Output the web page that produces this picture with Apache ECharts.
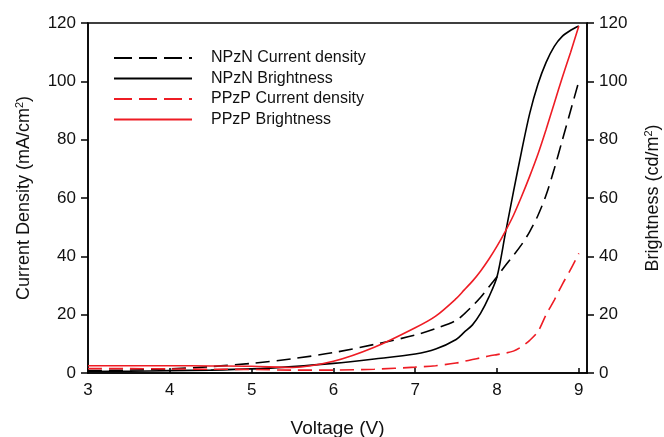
<!DOCTYPE html>
<html>
<head>
<meta charset="utf-8">
<script src="https://cdn.jsdelivr.net/npm/echarts@6/dist/echarts.min.js"></script>
<style>
    html, body { margin: 0; padding: 0; background: #fff; }
    #chart { width: 664px; height: 437px; }
</style>
</head>
<body>
<div id="chart"></div>
<script>
// 电压 (V)
var voltage = [3, 3.5, 4, 4.5, 5, 5.5, 6, 6.5, 7, 7.25, 7.5, 7.6, 7.7, 7.8, 7.9, 8, 8.1, 8.2, 8.3, 8.4, 8.5, 8.6, 8.7, 8.8, 8.9, 9];

// 电流密度 (mA/cm2)
var npznCurrent = [0.8, 1.0, 1.4, 2.2, 3.3, 4.9, 7.0, 9.8, 13.0, 15.2, 18.0, 20.3, 23.0, 26.0, 29.5, 33.0, 36.8, 40.3, 44.0, 48.5, 54.0, 61.0, 70.0, 80.0, 90.0, 100.0];
var ppzpCurrent = [1.5, 1.5, 1.4, 1.3, 1.2, 1.0, 1.0, 1.3, 2.0, 2.5, 3.4, 4.0, 4.6, 5.2, 5.8, 6.3, 6.8, 7.5, 9.0, 11.2, 14.2, 20.0, 25.0, 30.5, 35.5, 41.0];

// 亮度 (cd/m2)
var npznBright = [0.5, 0.6, 0.8, 1.0, 1.4, 2.2, 3.3, 4.8, 6.5, 8.2, 11.5, 14.0, 16.5, 20.5, 26.0, 33.0, 47.5, 62.0, 76.0, 89.0, 99.0, 106.5, 112.0, 115.5, 117.5, 119.0];
var ppzpBright = [2.5, 2.5, 2.5, 2.4, 2.3, 1.9, 4.0, 8.8, 15.5, 19.5, 25.5, 28.5, 31.5, 35.0, 39.0, 43.5, 48.5, 54.0, 60.5, 67.5, 75.0, 83.5, 92.5, 101.5, 110.0, 119.0];

var seriesNames = ["NPzN Current density", "NPzN Brightness", "PPzP Current density", "PPzP Brightness"];
var yTicks = [0, 20, 40, 60, 80, 100, 120];

var RED = "#ee1c24";
var FONT = "Liberation Sans";

function pairs(ys) {
    return voltage.map(function(v, i) {
        return [v, ys[i]];
    });
}

function makeLine(name, ys, color, dashed, axisIdx) {
    return {
        name: name,
        type: "line",
        yAxisIndex: axisIdx,
        data: pairs(ys),
        symbol: "none",
        smooth: 0.3,
        lineStyle: {
            color: color,
            width: 1.6,
            type: dashed ? [14, 7] : "solid"
        },
        itemStyle: { color: color }
    };
}

// 图例里虚线的线段更长一些
function legendItem(name, idx) {
    var item = { name: name };
    if (idx % 2 === 0) {
        item.lineStyle = { type: [18, 7] };
    }
    return item;
}

// 轴名称里的上标 2
var nameRich = {
    sup: { fontFamily: FONT, fontSize: 11, color: "#111", verticalAlign: "bottom", padding: [0, 0, 9, 0] }
};

function yAxisCfg(name, pos) {
    return {
        type: "value",
        position: pos,
        min: 0,
        max: yTicks[yTicks.length - 1],
        interval: 20,
        name: name,
        nameLocation: "middle",
        nameRotate: 90,
        nameGap: pos === "left" ? 54 : 56,
        nameTextStyle: { fontFamily: FONT, fontSize: 18, color: "#111", rich: nameRich },
        axisLine: { show: true, lineStyle: { color: "#000", width: 1.5 } },
        axisTick: { show: true, inside: false, length: 7, lineStyle: { color: "#000", width: 1.5 } },
        axisLabel: { margin: 12, fontFamily: FONT, fontSize: 17, color: "#111" },
        splitLine: { show: false }
    };
}

var chart = echarts.init(document.getElementById("chart"));

var option = {
    animation: false,
    backgroundColor: "#fff",
    grid: {
        left: 88,
        right: 77,
        top: 23,
        bottom: 64,
        containLabel: false,
        outerBoundsMode: "none",
        show: true,
        borderColor: "#000",
        borderWidth: 1.5
    },
    legend: {
        orient: "vertical",
        left: 108,
        top: 45,
        itemWidth: 78,
        itemHeight: 14,
        itemGap: 4.5,
        data: seriesNames.map(legendItem),
        itemStyle: { opacity: 0 },
        textStyle: { fontFamily: FONT, fontSize: 16, color: "#111", padding: [0, 0, 0, 14] }
    },
    xAxis: {
        type: "value",
        min: 3,
        max: 9.1,
        interval: 1,
        name: "Voltage (V)",
        nameLocation: "middle",
        nameGap: 46,
        nameTextStyle: { fontFamily: FONT, fontSize: 19, color: "#111" },
        axisLine: { show: true, lineStyle: { color: "#000", width: 1.5 } },
        axisTick: { show: true, inside: true, length: 5, lineStyle: { color: "#000", width: 1.5 } },
        axisLabel: {
            margin: 9,
            fontFamily: FONT,
            fontSize: 17,
            color: "#111",
            showMaxLabel: false
        },
        splitLine: { show: false }
    },
    yAxis: [
        yAxisCfg("Current Density (mA/cm{sup|2})", "left"),
        yAxisCfg("Brightness (cd/m{sup|2})", "right")
    ],
    series: [
        makeLine(seriesNames[0], npznCurrent, "#000", true, 0),
        makeLine(seriesNames[1], npznBright, "#000", false, 1),
        makeLine(seriesNames[2], ppzpCurrent, RED, true, 0),
        makeLine(seriesNames[3], ppzpBright, RED, false, 1)
    ]
};

chart.setOption(option);
</script>
</body>
</html>
